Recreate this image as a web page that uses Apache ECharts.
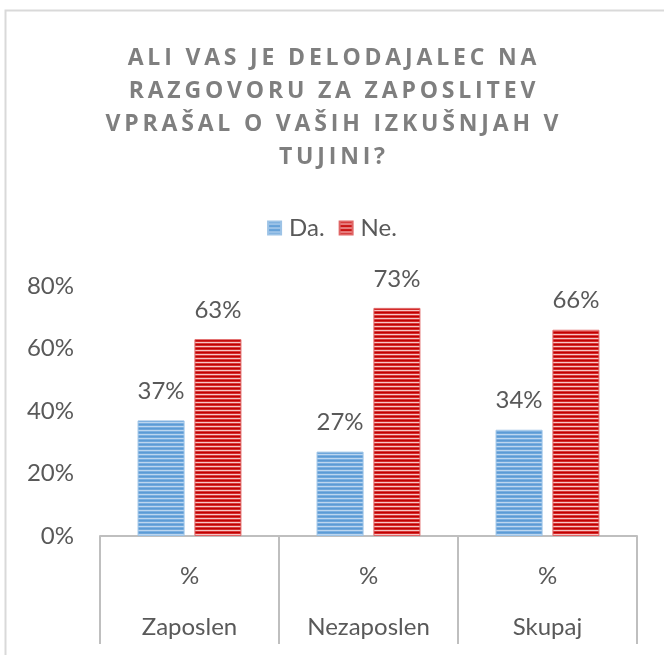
<!DOCTYPE html>
<html>
<head>
<meta charset="utf-8">
<script src="https://cdn.jsdelivr.net/npm/echarts@6/dist/echarts.min.js"></script>
<style>
  html, body { margin: 0; padding: 0; background: #fff; }
  #chart { width: 664px; height: 655px; }
</style>
</head>
<body>
<div id="chart"></div>
<script>
const categories = ["Zaposlen", "Nezaposlen", "Skupaj"];
const subLabel = "%";
const da = [37, 27, 34];
const ne = [63, 73, 66];
const titleLines = [
  "ALI VAS JE DELODAJALEC NA",
  "RAZGOVORU ZA ZAPOSLITEV",
  "VPRAŠAL O VAŠIH IZKUŠNJAH V",
  "TUJINI?",
];

// excel-like striped fill
function stripes(colors) {
  const c = document.createElement("canvas");
  c.width = 4;
  c.height = colors.length;
  const ctx = c.getContext("2d");
  colors.forEach((col, i) => {
    ctx.fillStyle = col;
    ctx.fillRect(0, i, 4, 1);
  });
  return { image: c, repeat: "repeat" };
}
const blueFill = stripes(["#5b9bd5", "#6fa7db", "#bcd6ef", "#7aaee0"]);
const redFill = stripes(["#c00000", "#d42a2a", "#f6c4c4", "#d83a3a"]);

// spread letters to mimic the title's wide tracking
const spaced = (s) => s.split("").join("\u2009");

const font = "Lato, 'Open Sans', sans-serif";
const txt = "#595959";

const chart = echarts.init(document.getElementById("chart"));
chart.setOption({
  backgroundColor: "#fff",
  animation: false,
  textStyle: { fontFamily: font, color: txt },
  title: {
    text: titleLines.map(spaced).join("\n"),
    left: "center",
    top: 37,
    textStyle: {
      fontFamily: "'Open Sans', sans-serif",
      fontWeight: "bold",
      fontSize: 23,
      lineHeight: 33,
      color: "#7f7f7f",
      align: "center",
    },
  },
  legend: {
    top: 211,
    left: "center",
    itemWidth: 13,
    itemHeight: 13,
    itemGap: 14,
    textStyle: { fontFamily: font, fontSize: 24, color: txt, padding: [0, 0, 0, 3] },
    data: [
      { name: "Da.", icon: "rect" },
      { name: "Ne.", icon: "rect" },
    ],
  },
  grid: { left: 100, right: 27, top: 286, bottom: 119 },
  xAxis: {
    type: "category",
    data: categories,
    axisLine: { lineStyle: { color: "#bfbfbf", width: 2 } },
    axisTick: {
      show: true,
      interval: 0,
      alignWithLabel: false,
      length: 108,
      lineStyle: { color: "#bfbfbf", width: 2 },
    },
    axisLabel: {
      interval: 0,
      margin: 15,
      formatter: (v) => "{p|" + subLabel + "}\n{n|" + v + "}",
      rich: {
        p: { fontFamily: font, fontSize: 24, color: txt, lineHeight: 51 },
        n: { fontFamily: font, fontSize: 24, color: txt, lineHeight: 51 },
      },
    },
  },
  yAxis: {
    type: "value",
    min: 0,
    max: 80,
    interval: 20,
    axisLine: { show: false },
    axisTick: { show: false },
    splitLine: { show: false },
    axisLabel: {
      margin: 26,
      fontFamily: font,
      fontSize: 24,
      color: txt,
      formatter: "{value}%",
    },
  },
  series: [
    {
      name: "Da.",
      type: "bar",
      data: da,
      barWidth: 47,
      barGap: "21%",
      itemStyle: { color: blueFill, borderColor: "#9dc3e6", borderWidth: 1 },
      label: {
        show: true,
        position: "top",
        distance: 17,
        fontFamily: font,
        fontSize: 24,
        color: txt,
        formatter: "{c}%",
      },
    },
    {
      name: "Ne.",
      type: "bar",
      data: ne,
      barWidth: 47,
      itemStyle: { color: redFill, borderColor: "#e06666", borderWidth: 1 },
      label: {
        show: true,
        position: "top",
        distance: 17,
        fontFamily: font,
        fontSize: 24,
        color: txt,
        formatter: "{c}%",
      },
    },
  ],
  graphic: [
    {
      type: "rect",
      silent: true,
      shape: { x: 5.5, y: 10.5, width: 720, height: 720 },
      style: { fill: null, stroke: "#d9d9d9", lineWidth: 2 },
    },
  ],
});
</script>
</body>
</html>
